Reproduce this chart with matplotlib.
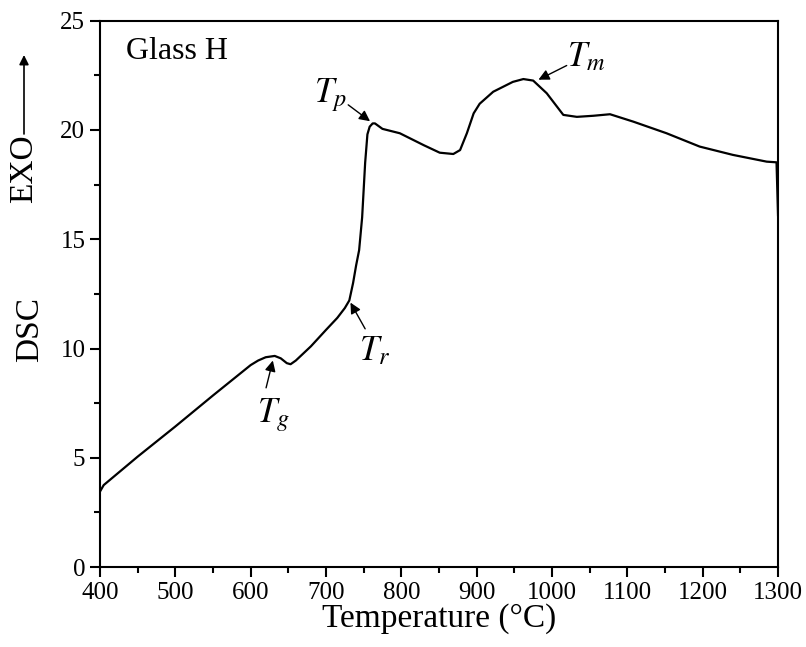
import matplotlib
matplotlib.use('Agg')
import matplotlib.pyplot as plt
from matplotlib.ticker import MultipleLocator

plt.rcParams['font.family'] = ['Liberation Serif', 'DejaVu Serif']
plt.rcParams['mathtext.fontset'] = 'stix'

# DSC trace
temperature = [400, 405, 450, 500, 550, 600, 610, 620, 632, 640, 648, 653, 660, 680, 700,
               715, 725, 731, 736, 740, 744, 748, 752, 755, 758, 762, 765, 775, 798, 830,
               851, 869, 878, 887, 896, 904, 922, 948, 962, 975, 993, 1015, 1033, 1055,
               1077, 1108, 1152, 1196, 1240, 1285, 1298, 1300]
dsc = [3.45, 3.75, 5.05, 6.43, 7.85, 9.24, 9.45, 9.6, 9.66, 9.55, 9.33, 9.28, 9.45, 10.1, 10.85,
       11.4, 11.85, 12.2, 13.0, 13.8, 14.5, 16.0, 18.5, 19.8, 20.15, 20.3, 20.3, 20.05, 19.85, 19.3,
       18.96, 18.9, 19.08, 19.85, 20.76, 21.2, 21.75, 22.2, 22.33, 22.26, 21.68, 20.69, 20.6, 20.65,
       20.72, 20.38, 19.85, 19.24, 18.86, 18.55, 18.52, 16.1]

# annotations: label, text position, arrow tail, arrow tip
marks = [
    (r'$T_g$', (630, 6.95), (620.5, 8.2), (629.5, 9.45)),
    (r'$T_r$', (765, 9.85), (752, 10.9), (732.5, 12.1)),
    (r'$T_p$', (706, 21.6), (729.5, 21.15), (758.5, 20.4)),
    (r'$T_m$', (1046, 23.3), (1019.5, 22.95), (982, 22.3)),
]

fig = plt.figure(figsize=(8.06, 6.47), dpi=100)
ax = fig.add_axes([0.124, 0.1236, 0.8413, 0.8444])

ax.plot(temperature, dsc, color='black', linewidth=1.6)

ax.set_xlim(400, 1300)
ax.set_ylim(0, 25)
ax.xaxis.set_major_locator(MultipleLocator(100))
ax.xaxis.set_minor_locator(MultipleLocator(50))
ax.yaxis.set_major_locator(MultipleLocator(5))
ax.yaxis.set_minor_locator(MultipleLocator(2.5))
ax.tick_params(which='major', direction='out', length=7, width=1.5, labelsize=18)
ax.tick_params(which='minor', direction='out', length=4, width=1.5)
for s in ax.spines.values():
    s.set_linewidth(1.5)

ax.set_xlabel('Temperature (°C)', fontsize=24, labelpad=0)

# y label: DSC, and EXO with an upward arrow
fig.text(30 / 806, 1 - 330 / 647, 'DSC', rotation=90, fontsize=24, ha='center', va='center')
fig.text(24 / 806, 1 - 169 / 647, 'EXO', rotation=90, fontsize=24, ha='center', va='center')
fig.add_artist(matplotlib.patches.FancyArrowPatch((24 / 806, 1 - 134 / 647), (24 / 806, 1 - 55 / 647),
               transform=fig.transFigure, arrowstyle='-|>', mutation_scale=14,
               color='black', linewidth=1.2, shrinkA=0, shrinkB=0))

ax.text(435, 23.6, 'Glass H', fontsize=23, va='center')

for label, pos, tail, tip in marks:
    ax.text(pos[0], pos[1], label, fontsize=25, ha='center', va='center')
    ax.annotate('', xy=tip, xytext=tail,
                arrowprops=dict(arrowstyle='-|>', color='black', lw=1.0,
                                mutation_scale=16, shrinkA=0, shrinkB=0))

fig.savefig('out.png', dpi=100)
